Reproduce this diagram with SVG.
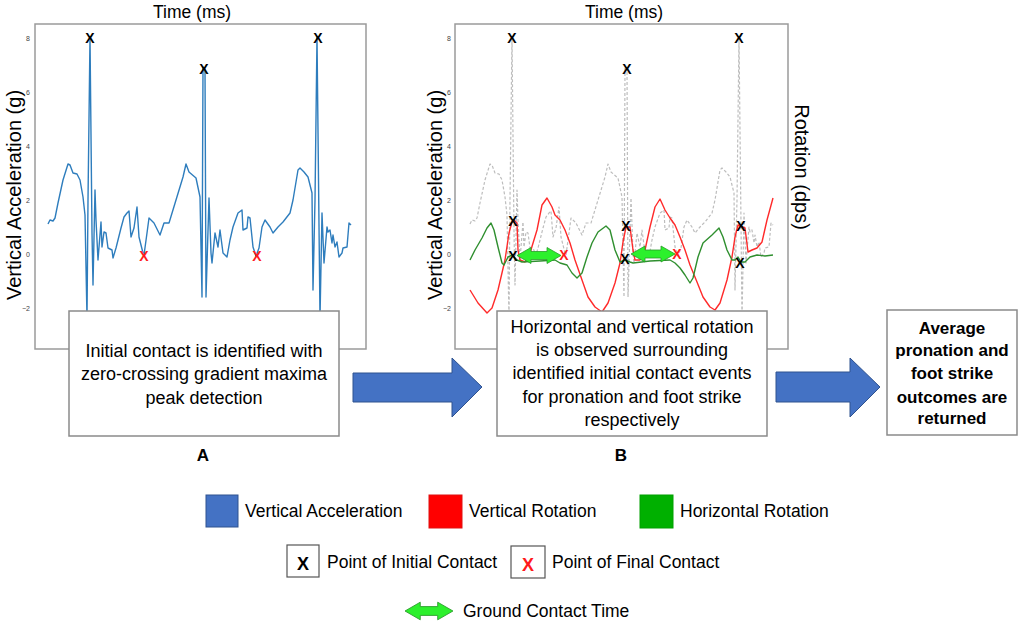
<svg xmlns="http://www.w3.org/2000/svg" width="1021" height="624" viewBox="0 0 1021 624">
<style>
text{font-family:"Liberation Sans",Arial,sans-serif;fill:#000}
.frame{fill:none;stroke:#9a9a9a;stroke-width:1.5}
.box{fill:#fff;stroke:#8a8a8a;stroke-width:1.5}
.t18{font-size:18px;text-anchor:middle}
.tb{font-size:17px;font-weight:bold;text-anchor:middle}
.leg{font-size:17.5px}
.tick{font-size:7px;fill:#444;text-anchor:end}
.title{font-size:17.5px;text-anchor:middle}
.axl{font-size:20px;text-anchor:middle}
.acc{fill:none;stroke:#2e7dbd;stroke-width:1.4;stroke-linejoin:round}
.accg{fill:none;stroke:#bdbdbd;stroke-width:1.2;stroke-dasharray:3 2;stroke-linejoin:round}
.red{fill:none;stroke:#ff2a2a;stroke-width:1.4;stroke-linejoin:round}
.grn{fill:none;stroke:#2f8f2f;stroke-width:1.4;stroke-linejoin:round}
.xk{font-size:14px;font-weight:bold;text-anchor:middle;fill:#000}
.xr{font-size:14px;font-weight:bold;text-anchor:middle;fill:#ff1a1a}
.garrow{fill:#2cf02c;stroke:#2a9a2a;stroke-width:0.8}
.barrow{fill:#4472c4;stroke:#2f528f;stroke-width:1}
</style>
<defs>
<path id="accPath" d="M48,224 L50,220 L53,221 L55,218 L58,203 L63,180 L68,164 L70,165 L73,173 L77,174 L80,180 L83,197 L85,215 L87,318 L88,200 L90,37 L92,233 L93,285 L95,190 L96,220 L98,260 L101,222 L102,247 L104,232 L106,233 L108,248 L112,250 L113,258 L116,248 L121,228 L124,217 L127,213 L129,211 L131,237 L134,228 L137,207 L139,237 L143,253 L144,255 L147,233 L149,218 L154,223 L160,235 L164,223 L169,223 L176,200 L183,177 L186,164 L189,172 L196,178 L200,197 L202,297 L203,67 L205,69 L206,297 L209,198 L211,253 L212,263 L215,233 L218,247 L220,230 L223,253 L227,257 L230,240 L233,227 L238,213 L242,210 L243,230 L247,228 L248,217 L250,218 L253,247 L256,256 L259,248 L262,227 L265,220 L270,227 L273,233 L278,227 L283,222 L290,213 L293,200 L298,170 L300,168 L304,172 L308,177 L312,193 L313,290 L315,200 L317,37 L320,318 L322,213 L324,263 L327,227 L328,232 L330,230 L332,243 L333,235 L335,247 L337,242 L339,257 L342,253 L343,248 L347,247 L349,223 L351,225"/>
<path id="dbl" d="M0,0 L14,-8 L14,-4 L30,-4 L30,-8 L44,0 L30,8 L30,4 L14,4 L14,8 Z"/>
</defs>

<g id="chartA">
<rect class="frame" x="35" y="24" width="331" height="325"/>
<text class="title" x="192" y="18">Time (ms)</text>
<text class="axl" transform="translate(21,195) rotate(-90)">Vertical Acceleration (g)</text>
<g>
<text class="tick" x="30" y="41">8</text>
<text class="tick" x="30" y="95">6</text>
<text class="tick" x="30" y="149">4</text>
<text class="tick" x="30" y="203">2</text>
<text class="tick" x="30" y="257">0</text>
<text class="tick" x="30" y="311">−2</text>
</g>
<use href="#accPath" class="acc"/>
<text class="xk" x="90" y="43">X</text>
<text class="xk" x="204" y="74">X</text>
<text class="xk" x="318" y="43">X</text>
<text class="xr" x="144" y="261">X</text>
<text class="xr" x="257" y="261">X</text>
</g>

<g id="chartB">
<rect class="frame" x="455" y="24" width="333" height="325"/>
<text class="title" x="624" y="18">Time (ms)</text>
<text class="axl" transform="translate(442,195) rotate(-90)">Vertical Acceleration (g)</text>
<text class="axl" transform="translate(795,167) rotate(90)">Rotation (dps)</text>
<g>
<text class="tick" x="451" y="41">8</text>
<text class="tick" x="451" y="95">6</text>
<text class="tick" x="451" y="149">4</text>
<text class="tick" x="451" y="203">2</text>
<text class="tick" x="451" y="257">0</text>
<text class="tick" x="451" y="311">−2</text>
</g>
<use href="#accPath" class="accg" transform="translate(422,0)"/>
<path class="red" d="M470,290 L478,303 L487,313 L492,308 L498,290 L505,260 L509,233 L512,222 L514,220 L517,223 L518,250 L520,260 L525,262 L530,253 L537,230 L542,205 L547,198 L552,207 L555,215 L560,220 L565,230 L570,243 L575,260 L582,280 L588,297 L595,307 L602,312 L608,303 L615,283 L620,263 L623,242 L626,227 L630,227 L633,250 L635,260 L640,260 L645,250 L650,227 L655,207 L660,199 L665,210 L670,218 L675,225 L680,237 L685,250 L690,265 L697,282 L703,297 L710,307 L715,310 L720,303 L727,280 L732,257 L735,237 L738,225 L745,228 L748,252 L752,250 L757,248 L762,242 L767,220 L773,198"/>
<path class="grn" d="M470,260 L475,250 L482,238 L487,228 L491,223 L494,230 L498,247 L502,263 L504,265 L508,257 L512,255 L517,260 L522,262 L540,261 L555,260 L560,263 L567,265 L572,273 L577,278 L582,273 L587,257 L592,243 L598,232 L606,226 L610,230 L615,250 L620,262 L625,260 L630,262 L633,263 L650,261 L670,260 L675,263 L680,268 L685,275 L690,283 L693,278 L698,257 L703,243 L712,235 L719,228 L723,237 L727,250 L732,260 L735,260 L738,257 L741,262 L745,262 L750,257 L757,255 L765,256 L773,255"/>
<use href="#dbl" class="garrow" transform="translate(517,255.5)"/>
<use href="#dbl" class="garrow" transform="translate(631,254)"/>
<text class="xk" x="512" y="43">X</text>
<text class="xk" x="627" y="74">X</text>
<text class="xk" x="739" y="43">X</text>
<text class="xk" x="513" y="226">X</text>
<text class="xk" x="626" y="231">X</text>
<text class="xk" x="741" y="231">X</text>
<text class="xk" x="513" y="261">X</text>
<text class="xk" x="625" y="264">X</text>
<text class="xk" x="740" y="268">X</text>
<text class="xr" x="564" y="260">X</text>
<text class="xr" x="677" y="259">X</text>
</g>

<g id="connectors">
<path class="barrow" d="M353,373 L452,373 L452,358 L482,387 L452,417 L452,402 L353,402 Z"/>
<path class="barrow" d="M776,372 L850,372 L850,358 L880,387 L850,417 L850,402 L776,402 Z"/>
</g>

<g id="boxA">
<rect class="box" x="69" y="311" width="270" height="125"/>
<text class="t18" x="204" y="357">Initial contact is identified with</text>
<text class="t18" x="204" y="380">zero-crossing gradient maxima</text>
<text class="t18" x="204" y="404">peak detection</text>
</g>
<g id="boxB">
<rect class="box" x="497" y="311" width="270" height="125"/>
<text class="t18" x="632" y="333">Horizontal and vertical rotation</text>
<text class="t18" x="632" y="356">is observed surrounding</text>
<text class="t18" x="632" y="379">identified initial contact events</text>
<text class="t18" x="632" y="403">for pronation and foot strike</text>
<text class="t18" x="632" y="426">respectively</text>
</g>
<g id="boxC">
<rect class="box" x="887" y="310" width="130" height="125"/>
<text class="tb" x="952" y="334">Average</text>
<text class="tb" x="952" y="356">pronation and</text>
<text class="tb" x="952" y="379">foot strike</text>
<text class="tb" x="952" y="403">outcomes are</text>
<text class="tb" x="952" y="424">returned</text>
</g>
<g id="panelLabels">
<text class="tb" x="203" y="461">A</text>
<text class="tb" x="621" y="461">B</text>
</g>

<g id="legend">
<rect x="206" y="495" width="32" height="32" fill="#4472c4" stroke="#2f528f" stroke-width="1"/>
<text class="leg" x="245" y="517">Vertical Acceleration</text>
<rect x="429" y="495" width="33" height="33" fill="#ff0000" stroke="#e01010" stroke-width="1"/>
<text class="leg" x="469" y="517">Vertical Rotation</text>
<rect x="640" y="495" width="33" height="33" fill="#00b000" stroke="#00a000" stroke-width="1"/>
<text class="leg" x="680" y="517">Horizontal Rotation</text>
<rect x="287" y="545" width="32" height="32" fill="#fff" stroke="#555" stroke-width="1.2"/>
<text x="303" y="570" font-size="18" font-weight="bold" text-anchor="middle">X</text>
<text class="leg" x="327" y="568">Point of Initial Contact</text>
<rect x="511" y="546" width="34" height="32" fill="#fff" stroke="#555" stroke-width="1.2"/>
<text x="528" y="571" font-size="18" font-weight="bold" text-anchor="middle" style="fill:#ff1a1a">X</text>
<text class="leg" x="552" y="568">Point of Final Contact</text>
<use href="#dbl" class="garrow" transform="translate(405,611) scale(1.09,1.1)"/>
<text class="leg" x="463" y="617">Ground Contact Time</text>
</g>
</svg>
